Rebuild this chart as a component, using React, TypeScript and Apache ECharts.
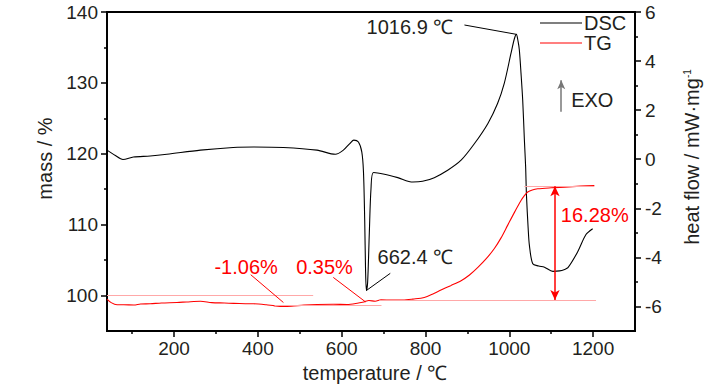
import React, { useEffect, useRef } from "react";
import * as echarts from "echarts";

// ---- data ----
const dscTemp = [40, 60, 78, 103, 143, 183, 263, 341, 390, 461, 541, 585, 604, 620, 629, 640, 648, 652, 655, 657, 659, 662, 666, 670, 676, 702, 734, 770, 793, 821, 853, 885, 917, 949, 972, 988, 1004, 1012, 1016.9, 1021, 1024, 1028, 1032, 1036, 1039, 1041, 1045, 1048, 1056, 1070, 1084, 1104, 1120, 1132, 1140, 1163, 1183, 1199];
const dscFlow = [0.37, 0.15, -0.01, 0.09, 0.13, 0.2, 0.37, 0.48, 0.5, 0.48, 0.37, 0.2, 0.37, 0.65, 0.78, 0.7, 0.3, -0.5, -2.5, -4.5, -5.35, -5.0, -3.0, -1.2, -0.54, -0.61, -0.75, -0.93, -0.9, -0.75, -0.45, -0.04, 0.64, 1.46, 2.27, 3.09, 4.31, 4.9, 5.09, 4.8, 4.45, 3.5, 2.41, 0.8, -0.31, -1.47, -2.8, -3.51, -4.26, -4.35, -4.4, -4.57, -4.55, -4.49, -4.42, -3.78, -3.07, -2.83];

const tgTemp = [40, 50, 64, 80, 104, 120, 143, 170, 207, 230, 263, 290, 320, 342, 370, 390, 420, 440, 461, 480, 510, 541, 580, 613, 640, 653, 665, 680, 694, 720, 746, 770, 797, 820, 837, 860, 885, 905, 925, 945, 964, 980, 996, 1012, 1028, 1036, 1044, 1055, 1068, 1100, 1132, 1170, 1203];
const tgMass = [99.5, 99.0, 98.7, 98.7, 98.66, 98.8, 98.84, 98.95, 99.02, 99.1, 99.2, 99.0, 98.95, 98.9, 98.85, 98.84, 98.7, 98.55, 98.46, 98.5, 98.65, 98.74, 98.78, 98.74, 98.95, 99.1, 99.3, 99.2, 99.4, 99.35, 99.36, 99.5, 99.73, 100.3, 100.78, 101.4, 102.1, 102.9, 103.97, 105.2, 106.6, 108.1, 109.9, 111.7, 113.4, 114.1, 114.6, 114.9, 115.06, 115.2, 115.3, 115.43, 115.53];

const xLabels = [200, 400, 600, 800, 1000, 1200];
const xMinor = [100, 300, 500, 700, 900, 1100];
const massLabels = [100, 110, 120, 130, 140];
const massMinor = [105, 115, 125, 135];
const flowLabels = [-6, -4, -2, 0, 2, 4, 6];
const flowMinor = [-5, -3, -1, 1, 3, 5];

const FONT = "'Liberation Sans', Arial, sans-serif";
const TXT = "#231f20";
const RED = "#ff0000";
const PINK = "#ffa8a8";

export default function App() {
  const ref = useRef<HTMLDivElement>(null);
  useEffect(() => {
    if (!ref.current) return;
    const chart = echarts.init(ref.current, undefined, { renderer: "svg" });
    const axisLine = { show: true, onZero: false, lineStyle: { color: "#000", width: 1.8 } };
    const lbl = { fontSize: 19, color: TXT, fontFamily: FONT, formatter: (v: number) => String(v) };
    const nameStyle = { fontSize: 20, color: TXT, fontFamily: FONT };
    const option: any = {
      animation: false,
      textStyle: { fontFamily: FONT },
      grid: { left: 107, right: 93, top: 12, bottom: 59, show: true, borderColor: "#000", borderWidth: 1.8 },
      legend: {
        orient: "vertical",
        left: 540,
        top: 13,
        icon: "path://M0,0H42V1.2H0Z",
        itemWidth: 42,
        itemHeight: 14,
        itemGap: 0,
        padding: 0,
        data: ["DSC", "TG"],
        textStyle: { fontSize: 20, lineHeight: 17, color: TXT, fontFamily: FONT, padding: [0, 0, 0, -3] },
      },
      xAxis: [
        {
          type: "value", min: 40, max: 1300, position: "bottom",
          axisLine,
          axisTick: { show: true, inside: false, length: 6, customValues: xLabels, lineStyle: { color: "#000", width: 1.5 } },
          axisLabel: { ...lbl, margin: 8, customValues: xLabels },
          splitLine: { show: false },
          name: "temperature / ℃", nameLocation: "middle", nameGap: 32,
          nameTextStyle: { ...nameStyle, padding: [0, 0, 0, 8] },
        },
        {
          type: "value", min: 40, max: 1300, position: "bottom",
          axisLine: { show: false, onZero: false },
          axisTick: { show: true, length: 3, customValues: xMinor, lineStyle: { color: "#000", width: 1.5 } },
          axisLabel: { show: false },
          splitLine: { show: false },
        },
      ],
      yAxis: [
        {
          type: "value", min: 95, max: 140, position: "left",
          axisLine,
          axisTick: { show: true, length: 6, customValues: massLabels, lineStyle: { color: "#000", width: 1.5 } },
          axisLabel: { ...lbl, margin: 9, customValues: massLabels },
          splitLine: { show: false },
          name: "mass / %", nameLocation: "middle", nameGap: 52, nameRotate: 90,
          nameTextStyle: { ...nameStyle, padding: [0, 0, 0, 26] },
        },
        {
          type: "value", min: -7, max: 6, position: "right",
          axisLine,
          axisTick: { show: true, length: 6, customValues: flowLabels, lineStyle: { color: "#000", width: 1.5 } },
          axisLabel: { ...lbl, margin: 10, customValues: flowLabels },
          splitLine: { show: false },
          name: "heat flow / mW·mg{sup|-1}", nameLocation: "middle", nameGap: 47, nameRotate: 90,
          nameTextStyle: {
            ...nameStyle, padding: [0, 0, 0, 29],
            rich: { sup: { fontSize: 10, color: TXT, fontFamily: FONT, verticalAlign: "top", padding: [0, 0, 10, 0] } },
          },
        },
        {
          type: "value", min: 95, max: 140, position: "left",
          axisLine: { show: false, onZero: false },
          axisTick: { show: true, length: 3, customValues: massMinor, lineStyle: { color: "#000", width: 1.5 } },
          axisLabel: { show: false },
          splitLine: { show: false },
        },
        {
          type: "value", min: -7, max: 6, position: "right",
          axisLine: { show: false, onZero: false },
          axisTick: { show: true, length: 3, customValues: flowMinor, lineStyle: { color: "#000", width: 1.5 } },
          axisLabel: { show: false },
          splitLine: { show: false },
        },
      ],
      series: [
        {
          name: "DSC", type: "line", xAxisIndex: 0, yAxisIndex: 1, symbol: "none", smooth: 0.3,
          lineStyle: { color: "#000", width: 1.1 }, itemStyle: { color: "#000" },
          data: dscTemp.map((t, i) => [t, dscFlow[i]]),
          markLine: {
            silent: true, symbol: "none", animation: false,
            lineStyle: { color: "#000", width: 1, type: "solid" },
            label: { show: false },
            data: [
              [{ coord: [893, 5.47] }, { coord: [1016.9, 5.09] }],
              [{ coord: [716, -4.65] }, { coord: [659, -5.35] }],
              [
                { coord: [1124, 1.93], symbol: "none", lineStyle: { color: "#777", width: 1.5 } },
                { coord: [1124, 3.22], symbol: "arrow", symbolSize: [6, 9] },
              ],
            ],
          },
          markPoint: {
            silent: true, symbol: "circle", symbolSize: 1, itemStyle: { color: "rgba(0,0,0,0)" },
            label: { show: true, position: "inside", fontSize: 20, color: TXT, fontFamily: FONT },
            data: [
              { coord: [763, 5.4], label: { formatter: "1016.9 ℃" } },
              { coord: [776, -4.0], label: { formatter: "662.4 ℃" } },
              { coord: [1198, 2.41], label: { formatter: "EXO" } },
            ],
          },
        },
        {
          name: "TG", type: "line", xAxisIndex: 0, yAxisIndex: 0, symbol: "none", smooth: 0.3,
          lineStyle: { color: RED, width: 1.1 }, itemStyle: { color: RED },
          data: tgTemp.map((t, i) => [t, tgMass[i]]),
          markLine: {
            silent: true, symbol: "none", animation: false,
            lineStyle: { color: PINK, width: 1.2, type: "solid" },
            label: { show: false },
            data: [
              [{ coord: [40, 100] }, { coord: [532, 100] }],
              [{ coord: [440, 98.65] }, { coord: [695, 98.65] }],
              [{ coord: [690, 99.36] }, { coord: [1207, 99.36] }],
              [{ coord: [1036, 115.43] }, { coord: [1203, 115.43] }],
              [
                { coord: [1109, 115.43], symbol: "arrow", symbolSize: [7, 10], lineStyle: { color: RED, width: 1.5 } },
                { coord: [1109, 99.36], symbol: "arrow", symbolSize: [7, 10] },
              ],
              [{ coord: [383, 102.94], lineStyle: { color: RED, width: 1 } }, { coord: [461, 99.02] }],
              [{ coord: [580, 102.56], lineStyle: { color: RED, width: 1 } }, { coord: [657, 99.1] }],
            ],
          },
          markPoint: {
            silent: true, symbol: "circle", symbolSize: 1, itemStyle: { color: "rgba(0,0,0,0)" },
            label: { show: true, position: "inside", fontSize: 20, color: RED, fontFamily: FONT },
            data: [
              { coord: [372, 103.97], label: { formatter: "-1.06%" } },
              { coord: [559, 103.97], label: { formatter: "0.35%" } },
              { coord: [1204, 111.3], label: { formatter: "16.28%" } },
            ],
          },
        },
      ],
    };
    chart.setOption(option);
    return () => chart.dispose();
  }, []);
  return <div ref={ref} style={{ width: 728, height: 390, position: "absolute", left: 0, top: 0 }} />;
}
